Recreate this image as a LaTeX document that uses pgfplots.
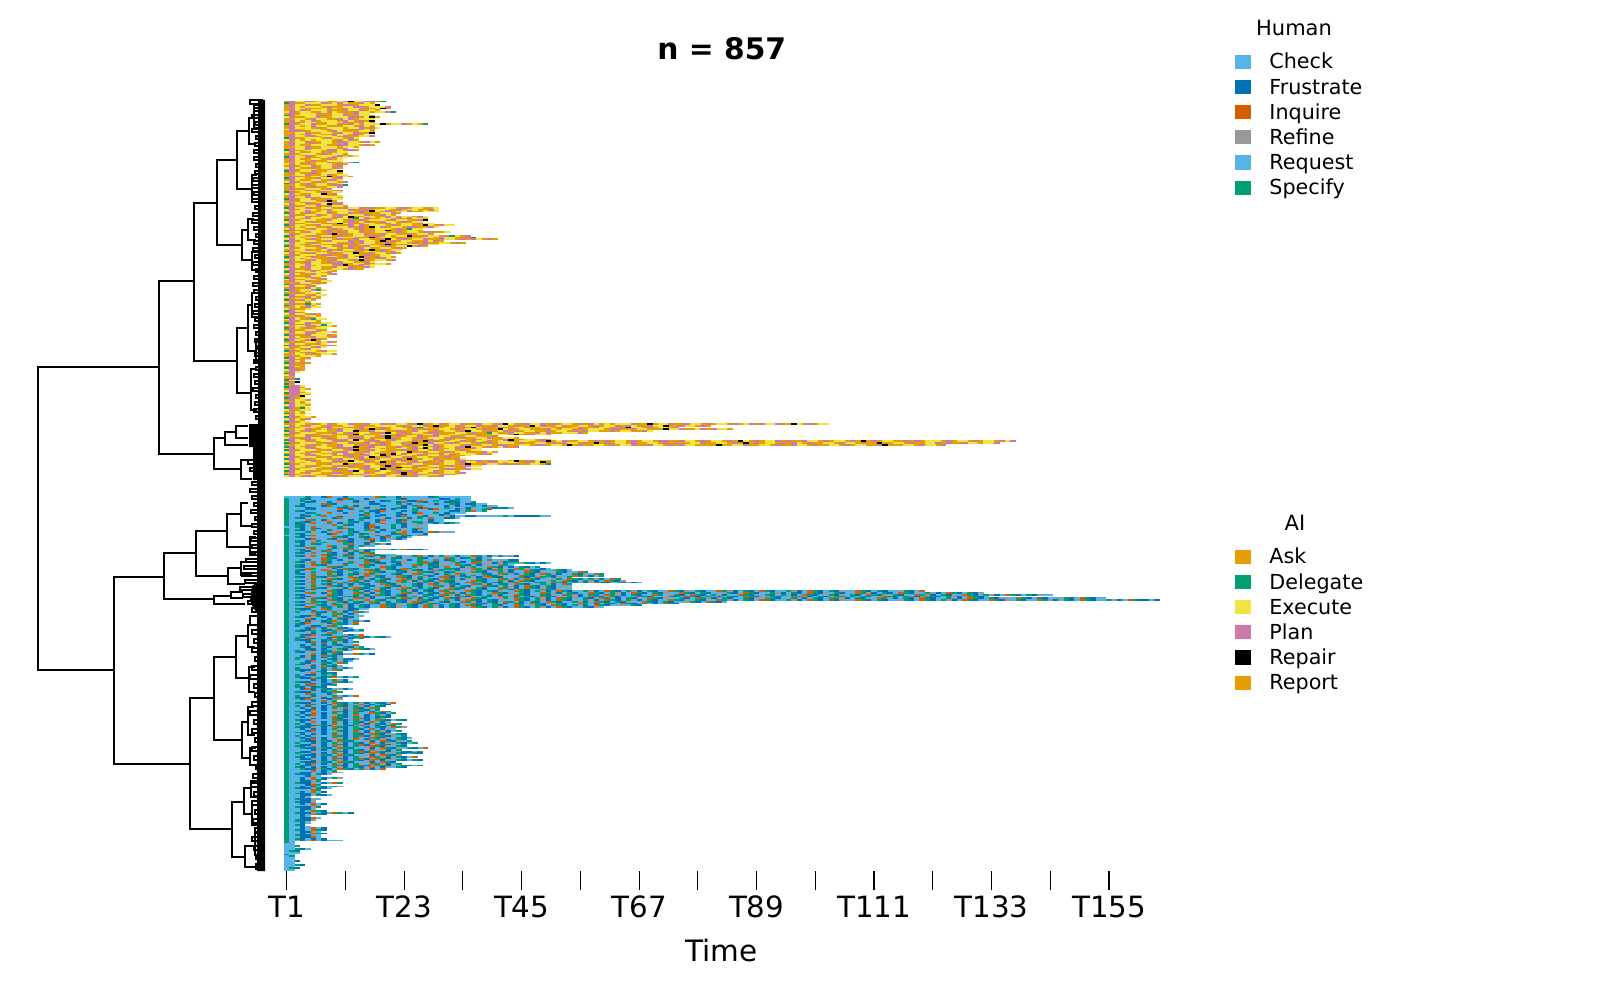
\documentclass[border=0pt]{standalone}
\usepackage{fontspec}
\setmainfont{DejaVu Sans}
\usepackage{pgfplots}
\pgfplotsset{compat=1.18}
\definecolor{c0}{HTML}{E69F00}\definecolor{c1}{HTML}{F0E442}\definecolor{c2}{HTML}{CC79A7}
\definecolor{c3}{HTML}{000000}\definecolor{c4}{HTML}{009E73}\definecolor{c5}{HTML}{56B4E9}
\definecolor{c6}{HTML}{0072B2}\definecolor{c7}{HTML}{D55E00}\definecolor{c8}{HTML}{999999}
\pgfdeclareplotmark{cellm}{\pgfpathrectangle{\pgfpoint{-2.75pt}{-0.93pt}}{\pgfpoint{5.5pt}{1.86pt}}\pgfusepathqfill}
\newcount\rowno \newcount\colno \rowno=441
\def\LA{}\def\LB{}
\def\basedigit{0}\def\bn{A}
\expandafter\def\csname L0\endcsname{}\expandafter\def\csname L1\endcsname{}\expandafter\def\csname L2\endcsname{}
\expandafter\def\csname L3\endcsname{}\expandafter\def\csname L4\endcsname{}\expandafter\def\csname L5\endcsname{}
\expandafter\def\csname L6\endcsname{}\expandafter\def\csname L7\endcsname{}\expandafter\def\csname L8\endcsname{}
\def\Rloop#1{\ifx#1\relax\else\advance\colno 1 \if#1\basedigit\else\expandafter\xdef\csname L#1\endcsname{\csname L#1\endcsname(\the\colno,\the\rowno.5)}\fi\expandafter\Rloop\fi}
\def\R#1{\colno=0 \Rloop#1\relax
 \expandafter\xdef\csname L\bn\endcsname{\csname L\bn\endcsname(0.5,\the\rowno.5)(\the\colno.5,\the\rowno.5)(nan,nan)}%
 \global\advance\rowno -1 }
% top cluster: 0 orange, 1 yellow, 2 pink, 3 black, 4 green
\R{0211201100123112204}
\R{42001112012100210}
\R{021120011102201113}
\R{02101110200112201112}
\R{00112001210211020130}
\R{021201110002112010}
\R{120110012100021101124}
\R{0201112001120211}
\R{42111102011200110}
\R{120011200111220130}
\R{00110211002120111}
\R{02101201110210203}
\R{02201100111200210}
\R{420112001120210111301120104}
\R{02101211000110210}
\R{021110201110112021}
\R{12001110211002210}
\R{02200111021000110}
\R{00112001102112003}
\R{021021100211020}
\R{02110201110200112}
\R{42001110211021}
\R{12101011102120}
\R{001120011020110210}
\R{02110201100211}
\R{02100111002211020}
\R{00112001110110}
\R{021120011102}
\R{42001110221020}
\R{121001102011}
\R{020111020110}
\R{00102011112001}
\R{421120010211}
\R{02100110201}
\R{02110200111}
\R{00102011200124}
\R{121000111020}
\R{02011201102}
\R{12100201120}
\R{0201110021}
\R{42011200113}
\R{02100201110}
\R{001120012011}
\R{0220011030210}
\R{42110021102}
\R{02100110221}
\R{120110201102}
\R{42102011201}
\R{001020110224}
\R{02110200112}
\R{020011102}
\R{00112001102}
\R{42011102011}
\R{1210011302}
\R{02002111001}
\R{02112001110}
\R{42011200211}
\R{0201110230}
\R{00102011120}
\R{12110021302}
\R{020011202110}
\R{421120011002 1120200110 2011001}
\R{1201110021 1120020111 020110021}
\R{0011200120 1110203102 011200111}
\R{4210201120 1120200011 20}
\R{1200112010 2011120021 0}
\R{0211200110 2130011002 1011021}
\R{0010211002 1104120011 0202110}
\R{4201110021 1020201110 2110023}
\R{1211020011 1020120021 102011}
\R{0200111020 3120011002 10110211}
\R{4211002110 0021201110 2011003102 11}
\R{0010110021 1120203120 110220021}
\R{1211021102 0110200111 020411}
\R{4200111020 0211002113 020110}
\R{0010211020 2011200110 0201102200 1}
\R{1201110023 0201120021 10020110}
\R{4211020110 2001102201 0113002110 24102}
\R{0010110220 1110203011 0202001102 110024}
\R{1211020110 2002110023 1020112002 1102021020}
\R{4201110021 1120211030 2011002120}
\R{1211020111 0020211002 0110202001 1020}
\R{0010211002 2002110023 002110211}
\R{4211002110 2120021102 0113020}
\R{1201110211 0020210011 020}
\R{0011200120 2110203020 11}
\R{4201110021 1002011020 2}
\R{1210021102 0113002110 20}
\R{0201110220 0211020011}
\R{4211020011 0210300211 0}
\R{0010110022 0011120021}
\R{1211021002 1102300110 2}
\R{4200211020 2110021}
\R{0210211002 2001120110}
\R{0011201110 2300211}
\R{4210211002 1120021}
\R{1200211001 10200}
\R{0211020110}
\R{420011102}
\R{1210021102}
\R{02002110}
\R{4211020}
\R{12001102}
\R{021120011}
\R{00211020}
\R{4200211}
\R{121102}
\R{0200210}
\R{42011241}
\R{12010}
\R{0020110}
\R{42110211}
\R{1200210}
\R{0011020}
\R{420210}
\R{12110}
\R{0200410}
\R{421120}
\R{0010211}
\R{12001}
\R{4211}
\R{0220}
\R{1211020}
\R{0020110}
\R{421020}
\R{12100411}
\R{0201110}
\R{421120011}
\R{12002114}
\R{0011020110}
\R{42102011}
\R{02001120}
\R{1211020110}
\R{00112011}
\R{4200211120}
\R{1210021102}
\R{02011020}
\R{4210230}
\R{0020110120}
\R{12110021}
\R{4200211020}
\R{12011021}
\R{0010211}
\R{4201110211}
\R{12102011}
\R{0011020110}
\R{0201110}
\R{42102}
\R{12001}
\R{0210}
\R{42020}
\R{1200}
\R{0210}
\R{4200}
\R{1220}
\R{021}
\R{42}
\R{12}
\R{00}
\R{024}
\R{41}
\R{023}
\R{40}
\R{0221}
\R{4220}
\R{02210}
\R{1221}
\R{42201}
\R{02210}
\R{0203}
\R{4201}
\R{02110}
\R{0010}
\R{42101}
\R{12110}
\R{0210}
\R{42041}
\R{12011}
\R{0010}
\R{42101}
\R{1211}
\R{420110}
\R{12102}
\R{0210}
\R{42011}
\R{0011020120 1120021120 2110230012 0112002110 2310021120 2011020210 1011120030 1120021102 0110201202 1120031020 11}
\R{1210211020 0110200111 1020112030 0120112002 1102003120 0120011020 1120210021 1300211020}
\R{4201110021 1020211020 1102041020 1102031020 2001120011 0200120021 1002311020 1102}
\R{0011200120 2110203020 1110202001 1020110200 3120110002 1011020111 0220021100 0311200120 2110}
\R{4210201100 2113002110 0200211020 1102311020 1202011002 0110202110 020110021}
\R{1201110002 1020110023 1020110220 0011020041 0021100212 0011120}
\R{4211020110 0203120011 0202001120 0110202001 1103002110}
\R{0011200200 1120011023 0201120021 1020110002}
\R{1200211020 1102210003 2011020111 0202001120 0110}
\R{4210201102 0213002110 2011000210 2011020110 0230011020}
\R{1211020110 2001102200 1110203020 1102021020 1120110023 0120011020 2011020110 2200211020 1102031020 1120200211 0201102030 2011002020 1110201102 0110212}
\R{4201110020 1120021020 1120300211 0201102020 1110200110 2021102030 2011020011 0202001120 0110203020 1102021020 0110211020 0300110200 1120200211 0112}
\R{0011020100 2110202020 1102003120 1110200110 2200110220 1103020011 0201120021 1020211000 0300112001 1020021102 0011020110 0230001102 1102}
\R{4210201100 2113002110 0200211020 1102311020 1202}
\R{1211020110 0220021100 0110203120 0120021}
\R{4201110021 1023002110 0020211020 1102011}
\R{1211020110 2210021100 2113002110 2011000210}
\R{0010211002 1200211020 3120110002 100111020}
\R{4211020110 0220021130 2011020110 02001}
\R{1201110021 1020213002 1102011000 200}
\R{4210201100 2110200211 0203001120 0021}
\R{1211020110 2031020110 0020211002 1102002020 1103002110}
\R{0010110002 0011120030 2110202000 1102110002 1011020130}
\R{4201110021 1302011020 2002110020 1102300211 0202001104}
\R{1211020110 2020021103 2011020110 0200211}
\R{4210211002 1120021102 0300211020 1102}
\R{1201110002 2011020130 2011000110 2200211}
\R{4211020110 0023100211 0202001120 110}
\R{0210211002 2001120110 0230211020 1102}
\R{4201110021 1020211020 1130020110 201}
\R{1210201102 0011120021 1020211002}
\rowno=214 \def\basedigit{5}\def\bn{B}
% lower cluster: 5 light blue, 6 blue, 7 vermilion, 8 grey, 4 green
\R{5555455675 5655555745 5685555645 55555}
\R{4554655555 6745568555 5465558556 65455}
\R{4554565555 7556855564 5556675545 56455}
\R{4555645565 8554556555 5675546555 646554}
\R{4556555746 5558556655 5456555865 54656655}
\R{4546555675 5456585565 5565475555 6865545655}
\R{4555645555 6675565855 5465567555 4555685576 465}
\R{4555465555 7565855465 6555455675 556865546}
\R{4546555855 6555456675 5565455585 56654754}
\R{4555645575 5685545655 5655675545 6555}
\R{4556554555 8555675565 5465585556 45}
\R{4554655755 6585545655 5675546555 8655665555 5456666655}
\R{4546585556 7555465556 8556545755 665}
\R{4555745685 5565455675 5648555655}
\R{4554655875 5546555685 5675445655}
\R{4564575545 6845565575 5465548565 645}
\R{4546555857 5465567555 4565855}
\R{5546575555 4855567655 4565585}
\R{4556546855 6745565485 6555475}
\R{4546575548 5565547565 5485655}
\R{4555455685 7546555655 4875665748 55}
\R{4546585567 5545648555 6475556}
\R{5556475585 5645755486 5546575}
\R{4546585557 4655465867 5465}
\R{4555675546 5865547565 865}
\R{4546584555 7465586545}
\R{4546575485 5465567}
\R{4556546555 8475565486}
\R{4546585574 5565485}
\R{4555745586 5745}
\R{4546575565 8475546585 6576665}
\R{4554658475 5654865}
\R{4546575546 5865474}
\R{4555855746 5465857455 5}
\R{4546575565 8475546565 8455475654 8565574565 4586}
\R{4555855746 5565485575 4658546555 745648655}
\R{4554655745 6585546755 4586545575 6485546575 8566}
\R{4546575465 5845574655 6485547565 8456547555 8644}
\R{4555845745 5648575465 5685547465 5845574586 5455846565}
\R{4546574655 8455746585 4655745648 5574656855 745}
\R{4546585574 6555845574 6555485465 7556845574 65654654}
\R{4555745586 5746555484 6574555685 4465574865 4557485565}
\R{4546555748 6545574685 5648465574 5568554657 4865574655 8465}
\R{4565845574 6554857465 5468574655 6485574655 4865574685 5468574}
\R{4546575548 6546574855 4655745865 4574855465 7486546574 8655468574}
\R{4555845574 6548575465 5746854655 7486545746 5855746854 6555748654}
\R{4546574655 8574655468 5746548557 4655486574 6558465745 6854}
\R{4555845574 6557486546 5574865465 7456854655 7486574655 8457465486 574}
\R{4546575468 5574865465 5748654657 4685574655 4865746558 4574654865 7468}
\R{4555845574 8654655746 8545574865 4655748654 6574558465 7465486574 6554865}
\R{4546575465 4865465574 6855465748 5465574865 4657465548 6574}
\R{4555845574 6548546557 4685465574 8654655746 5486574654 6855}
\R{4546574655 8657465846 5574865465 5746854655 7486574654 6558}
\R{4555465584 6574654865 5748654655 7468574655 4865465574 6855}
\R{4546585574 6554865746 5548654657 4855746546 8557465486 5746554865 7465486546 5574685465 5748654657 4655486574 6546855746 5465584657}
\R{4555745684 6557486546 5574865465 7486546557 4685465574 8654655746 5486574654 6855746546 5584657465 5486546574 6854655748 6546574655 4865746546 8}
\R{4546585574 6554865746 5468554657 4865746548 6557468546 5574865465 7486546557 4584657465 4865574685 4654865746 5546854657 4685465574 8654655746 5486574654 6855}
\R{4554655846 5746546855 7465486546 5574685465 7486546574 6554865746 5468557465 5846574654 8654657468 5465574865 4657486546 5574654865 7465486574 65}
\R{4546574684 6557486554 6574865465 7468574655 8457465486 5746854657 4865465574 6855465748 6546554685 7465548654 6574865465 5748654657 4655486574 6546855746 5465584657 4655}
\R{4555845574 6548575465 5468574655 4865746546 8557465486 5746554865 7465486546 5574685465 5748654657 4655486574 6546855746 5465584657 4654865746 5574685465 5748654657 4655486574 6656}
\R{4546574658 4654657486 5465746854 6557486546 5748654657 4655486574 6546855746 5465584657 465}
\R{4555745486 5746854654 6857465465 8465574654 8654657468 5465574865 4657465486 5746}
\R{4546584657 4865465574 6854657486 5465746854 6557458465 7465486574 6558546}
\R{4555745465 4865465574 6854657486 5465574654 8657465486 5746554685}
\R{4546655745 586655}
\R{4554565575 8465}
\R{4545574654 865745}
\R{4555586557 4565}
\R{4556674554 86555}
\R{4546585655 7465}
\R{4555765565 4685}
\R{4545685647 565486}
\R{4556755465 4657}
\R{4546555857 4654}
\R{4565866574 5}
\R{4555675658 465}
\R{4554655465 75654}
\R{4546545654 86555}
\R{4555865574 5}
\R{4554675465 58657}
\R{4556585557 4654765465}
\R{4545765565 48654}
\R{4546655647 465}
\R{4555675654 8654}
\R{4555845756 555}
\R{4556545654 6857}
\R{4554685465 54654}
\R{4555665658 4657465}
\R{4545765465 865}
\R{4546585647 4}
\R{4555575654 6857456}
\R{4556865746 5}
\R{4546545654 8}
\R{4545865546 5465}
\R{4555675654 865}
\R{4554655465 74}
\R{4546575654}
\R{4555865746 5}
\R{4545565454 865}
\R{4546685657 4}
\R{45565546}
\R{4555875646}
\R{4545665454}
\R{4546585647 5654}
\R{45566746}
\R{4555565654 86}
\R{4546685657 465}
\R{4555765465}
\R{4545675654}
\R{45465646}
\R{4556765465 865}
\R{4555565654}
\R{4546685647 4}
\R{4555745565}
\R{4545565854 8657}
\R{4546685657 4}
\R{4556745565 8}
\R{4555565754}
\R{4546685657 4654865465 7}
\R{4555745565 4685756546}
\R{4545685657 465486546}
\R{4556565654 8754657 4}
\R{4555675658 56574654}
\R{4546685557 4654686574}
\R{4556575654 8654557465 4}
\R{4545675658 4657565486}
\R{4556585657 4654865646}
\R{4555565654 685746548}
\R{4546685557 4654865746 546}
\R{4556575654 8654657568}
\R{4545685657 5654865465 74}
\R{4554667468 5465758654 6}
\R{4546685657 4654565465 748}
\R{4556565654 8654657568 5}
\R{4555675658 4657565486 54}
\R{4546585657 5654865746}
\R{4556565654 8654657468 546}
\R{4545685557 4654765746 854}
\R{4556565654 8654557468 5465}
\R{4555675658 4657565486 546}
\R{4554668465 7465586574 6854}
\R{4545565654 8654657568 54654}
\R{4556685657 4654765746 854}
\R{4546575654 8654557468 546}
\R{4554668465 7465586574 6854657}
\R{4555565654 8654657586 54}
\R{4556685557 4654765746 854654}
\R{4545565654 8654657568 546546}
\R{4554668465 7465586574 68}
\R{4546565654 8654557486 54657}
\R{4556685657 4654765746 854}
\R{4555565654 8654657568 546546}
\R{4554668465 7465586574 6}
\R{4545675654 8654557486 54}
\R{4556685557 4654765746 854654}
\R{4546565654 8654657568 546}
\R{4554668465 74654865 7}
\R{4555575654}
\R{4556685657 5}
\R{454665465}
\R{4555685}
\R{4556575654 8}
\R{45565746}
\R{4556684}
\R{4546685657 4}
\R{4555674}
\R{4556565654 8}
\R{454668465}
\R{4555574}
\R{45565756}
\R{4546684}
\R{455665465}
\R{45565}
\R{4546685}
\R{455665}
\R{454668}
\R{45565756}
\R{4555575}
\R{4546684}
\R{455665}
\R{45565746}
\R{4546685657 456}
\R{45565746}
\R{45565}
\R{4556675}
\R{454668}
\R{45465}
\R{45565}
\R{4546}
\R{45565}
\R{45565756}
\R{45465746}
\R{4556685}
\R{45565746}
\R{4546685}
\R{4556675}
\R{45465656}
\R{4556575655 5}
\R{45}
\R{55}
\R{554}
\R{55}
\R{55465}
\R{546}
\R{555}
\R{45}
\R{54}
\R{55}
\R{55}
\R{556}
\R{55}
\R{5546}
\R{55}
\R{546}
\R{55}
\def\plotL#1{\edef\tmp{\noexpand\addplot[only marks,mark=cellm,forget plot,color=c#1,mark options={draw=none,fill=c#1}] coordinates {\csname L#1\endcsname};}\tmp}
\def\plotB#1#2{\edef\tmp{\noexpand\addplot[forget plot,color=#2,line width=1.86pt,line cap=butt,no marks,unbounded coords=jump] coordinates {\csname L#1\endcsname};}\tmp}
\begin{document}
\begin{tikzpicture}[x=1pt,y=1pt]
\path[use as bounding box] (0,0) rectangle (1620,990);
\begin{axis}[at={(284pt,119pt)},anchor=south west,scale only axis,width=881.1pt,height=770.3pt,
 xmin=0.5,xmax=165.5,ymin=0,ymax=442,clip=false,
 axis x line=bottom,axis y line=none,x axis line style={draw=none,-},
 xtick={1,12,23,34,45,56,67,78,89,100,111,122,133,144,155},
 xticklabels={T1,{},T23,{},T45,{},T67,{},T89,{},T111,{},T133,{},T155},
 tick align=outside,major tick length=19pt,tick style={black,line width=1.2pt},
 x tick label style={font=\fontsize{29.3}{30}\selectfont,anchor=base,yshift=-27pt},
 title={\fontsize{29.7}{30}\selectfont\bfseries n = 857},title style={at={(0.4968,1)},anchor=base,yshift=35.5pt},
 xlabel={Time},xlabel style={font=\fontsize{29.5}{30}\selectfont,at={(0.4968,0)},anchor=base,yshift=-91pt}]
\plotB{A}{c0}\plotB{B}{c5}
\plotL{1}\plotL{2}\plotL{4}\plotL{6}\plotL{7}\plotL{8}\plotL{3}
\end{axis}
\begin{axis}[at={(0pt,0pt)},anchor=south west,scale only axis,width=300pt,height=990pt,xmin=0,xmax=300,ymin=0,ymax=990,y dir=reverse,hide axis,clip=false]
\addplot[fill=black,draw=none,forget plot] coordinates {(265,100)(258,100)(258,424)(249,424)(249,447)(253,447)(253,480)(257,480)(257,582)(252,586)(250,600)(253,608)(257,612)(257,871)(265,871)} --cycle;
\addplot[black,line width=2pt,forget plot,const plot] coordinates {(263,100)(250,104)(263,108)(254,111)(263,115)(252,118)(263,122)(255,125)(263,129)(252,132)(263,136)(256,139)(263,143)(255,146)(263,150)(254,153)(263,157)(254,160)(263,164)(256,167)(263,171)(255,174)(263,178)(253,181)(263,185)(252,188)(263,192)(254,195)(263,199)(252,202)(263,206)(255,209)(263,213)(253,216)(263,220)(252,223)(263,227)(254,230)(263,234)(256,237)(263,241)(254,244)(263,248)(253,251)(263,255)(255,258)(263,262)(253,265)(263,269)(256,272)(263,276)(254,279)(263,283)(253,286)(263,290)(254,293)(263,297)(256,300)(263,304)(255,307)(263,311)(253,314)(263,318)(255,321)(263,325)(254,328)(263,332)(256,335)(263,339)(255,342)(263,346)(257,349)(263,353)(255,356)(263,360)(254,363)(263,367)(256,370)(263,374)(254,377)(263,381)(255,384)(263,388)(253,391)(263,395)(256,398)(263,402)(255,405)(263,409)(254,412)(263,416)(256,419)(263,460)(248,464)(263,468)(250,471)(263,475)(254,478)(263,482)(252,485)(263,489)(250,492)(263,496)(252,499)(263,503)(254,506)(263,510)(251,513)(263,517)(255,520)(263,524)(252,527)(263,531)(254,534)(263,538)(251,541)(263,545)(252,548)(263,552)(250,555)(263,559)(246,562)(263,566)(244,569)(263,573)(242,576)(263,580)(245,583)(263,587)(240,590)(263,594)(243,597)(263,601)(248,604)(263,608)(252,612)(263,616)(250,625)(263,630)(252,634)(263,639)(254,643)(263,648)(252,652)(263,657)(255,661)(263,666)(252,670)(263,675)(250,679)(263,684)(254,688)(263,693)(255,697)(263,702)(252,706)(263,711)(250,715)(263,720)(254,724)(263,729)(252,733)(263,738)(255,742)(263,747)(252,751)(263,756)(254,760)(263,765)(256,769)(263,774)(253,778)(263,783)(251,787)(263,792)(254,796)(263,801)(252,805)(263,810)(255,814)(263,819)(253,823)(263,828)(255,832)(263,837)(252,841)(263,846)(254,850)(263,855)(256,859)(263,864)(257,868)(263,871)};
\addplot[black,line width=2pt,forget plot,unbounded coords=jump] coordinates {
(159,367)(37.5,367)(37.5,670)(113.5,670)(nan,nan)
(194,281)(159,281)(159,454)(214,454)(nan,nan)
(216.7,203)(194,203)(194,360.5)(237,360.5)(nan,nan)
(236.7,160)(216.7,160)(216.7,245)(242,245)(nan,nan)
(248.5,131)(236.7,131)(236.7,189)(252,189)(nan,nan)
(254,118)(248.5,118)(248.5,144)(256,144)(nan,nan)
(260,105)(254,105)(254,128)(260,128)(nan,nan)
(257,175)(252,175)(252,202)(258,202)(nan,nan)
(248,230)(242,230)(242,260)(252,260)(nan,nan)
(254,219)(248,219)(248,240)(256,240)(nan,nan)
(258,252)(252,252)(252,270)(258,270)(nan,nan)
(248,327.7)(237,327.7)(237,392.7)(251,392.7)(nan,nan)
(252,305)(248,305)(248,350.7)(256,350.7)(nan,nan)
(257,293)(252,293)(252,317)(258,317)(nan,nan)
(259,340)(256,340)(256,362)(259,362)(nan,nan)
(256,369)(251,369)(251,410)(257,410)(nan,nan)
(225,438)(214,438)(214,469)(241,469)(nan,nan)
(235.5,432)(225,432)(225,445)(248,445)(nan,nan)
(248,426)(235.5,426)(235.5,438)(248,438)(nan,nan)
(250,460)(241,460)(241,479)(252,479)(nan,nan)
(164,576.7)(113.5,576.7)(113.5,764)(189.7,764)(nan,nan)
(196,553.3)(164,553.3)(164,599)(214,599)(nan,nan)
(227,530.7)(196,530.7)(196,576)(228,576)(nan,nan)
(241,514)(227,514)(227,547)(250,547)(nan,nan)
(248,503)(241,503)(241,525.7)(252,525.7)(nan,nan)
(256,537)(250,537)(250,553)(256,553)(nan,nan)
(241,568)(228,568)(228,584)(245,584)(nan,nan)
(250,562)(241,562)(241,575)(252,575)(nan,nan)
(231,596)(214,596)(214,604)(245,604)(nan,nan)
(243,592)(231,592)(231,598)(243,598)(nan,nan)
(213.7,698)(189.7,698)(189.7,829)(232,829)(nan,nan)
(236,656.7)(213.7,656.7)(213.7,740)(241.7,740)(nan,nan)
(248,635.7)(236,635.7)(236,677.7)(249,677.7)(nan,nan)
(254,625)(248,625)(248,646.7)(255,646.7)(nan,nan)
(255,667)(249,667)(249,692)(255,692)(nan,nan)
(248,721.7)(241.7,721.7)(241.7,758)(250,758)(nan,nan)
(254,707)(248,707)(248,735)(255,735)(nan,nan)
(256,748)(250,748)(250,765)(256,765)(nan,nan)
(244,801.7)(232,801.7)(232,856.7)(245.3,856.7)(nan,nan)
(251,787.7)(244,787.7)(244,814)(252,814)(nan,nan)
(257,781)(251,781)(251,797)(257,797)(nan,nan)
(257,805)(252,805)(252,825)(257,825)(nan,nan)
(255,846)(245.3,846)(245.3,866.7)(256,866.7)(nan,nan)
(260,833)(255,833)(255,855)(260,855)(nan,nan)
(262,864)(256,864)(256,869)(262,869)};
\end{axis}
\begin{axis}[at={(1235pt,926pt)},anchor=south west,scale only axis,width=50pt,height=10pt,hide axis,xmin=0,xmax=1,ymin=0,ymax=1,
 legend style={at={(0,1)},anchor=north west,draw=none,fill=none,inner sep=0pt,outer sep=0pt,row sep=6.2pt,column sep=19pt,
 nodes={inner sep=0pt,outer sep=0pt,text height=15pt,text depth=4pt},font=\fontsize{20.7}{24}\selectfont},legend cell align=left,
 legend image code/.code={\fill[#1] (0pt,-4.6pt) rectangle (15pt,8.6pt);}]
\addlegendimage{c5}\addlegendentry{Check}
\addlegendimage{c6}\addlegendentry{Frustrate}
\addlegendimage{c7}\addlegendentry{Inquire}
\addlegendimage{c8}\addlegendentry{Refine}
\addlegendimage{c5}\addlegendentry{Request}
\addlegendimage{c4}\addlegendentry{Specify}
\end{axis}
\begin{axis}[at={(1235pt,431pt)},anchor=south west,scale only axis,width=50pt,height=10pt,hide axis,xmin=0,xmax=1,ymin=0,ymax=1,
 legend style={at={(0,1)},anchor=north west,draw=none,fill=none,inner sep=0pt,outer sep=0pt,row sep=6.2pt,column sep=19pt,
 nodes={inner sep=0pt,outer sep=0pt,text height=15pt,text depth=4pt},font=\fontsize{20.7}{24}\selectfont},legend cell align=left,
 legend image code/.code={\fill[#1] (0pt,-4.6pt) rectangle (15pt,8.6pt);}]
\addlegendimage{c0}\addlegendentry{Ask}
\addlegendimage{c4}\addlegendentry{Delegate}
\addlegendimage{c1}\addlegendentry{Execute}
\addlegendimage{c2}\addlegendentry{Plan}
\addlegendimage{c3}\addlegendentry{Repair}
\addlegendimage{c0}\addlegendentry{Report}
\end{axis}
\node[anchor=base,font=\fontsize{21}{24}\selectfont] at (1294,954) {Human};
\node[anchor=base,font=\fontsize{21}{24}\selectfont] at (1295,459) {AI};
\end{tikzpicture}
\end{document}
